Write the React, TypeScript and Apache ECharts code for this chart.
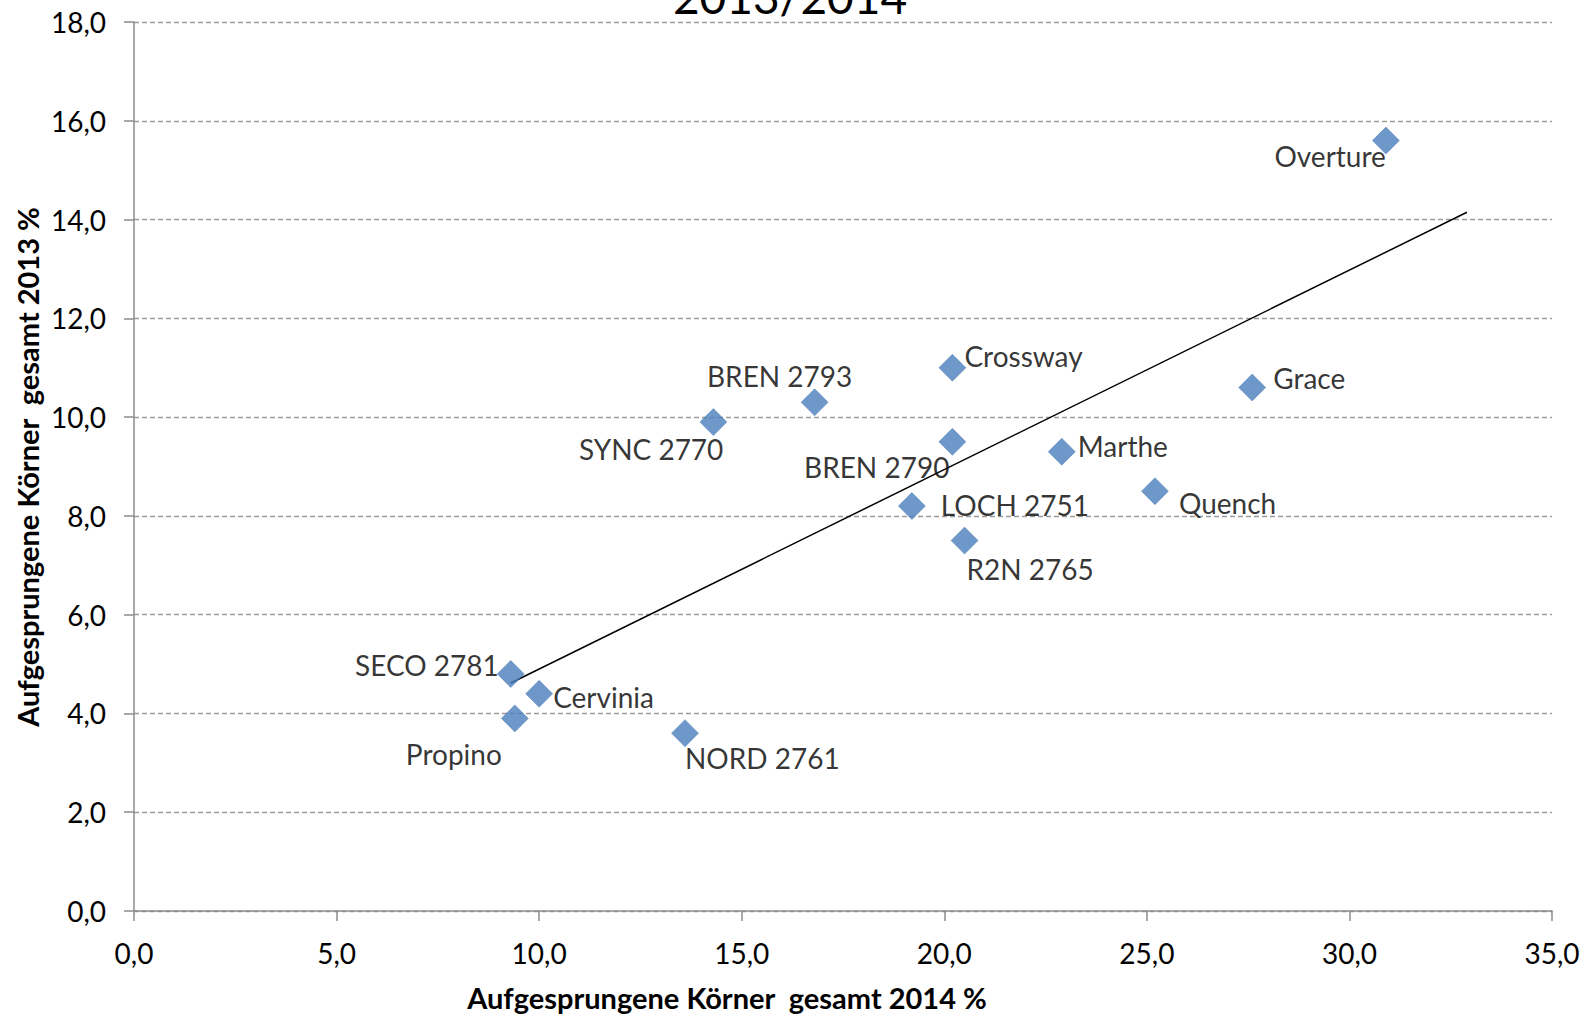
import React, { useEffect, useRef } from "react";
import * as echarts from "echarts";

const varieties = [
  "Overture", "Crossway", "BREN 2793", "SYNC 2770", "BREN 2790", "Grace", "Marthe",
  "Quench", "LOCH 2751", "R2N 2765", "SECO 2781", "Cervinia", "Propino", "NORD 2761",
];
const values2014 = [30.9, 20.2, 16.8, 14.3, 20.2, 27.6, 22.9, 25.2, 19.2, 20.5, 9.3, 10.0, 9.4, 13.6];
const values2013 = [15.6, 11.0, 10.3, 9.9, 9.5, 10.6, 9.3, 8.5, 8.2, 7.5, 4.8, 4.4, 3.9, 3.6];
const xTicks = { min: 0, max: 35, interval: 5 };
const yTicks = { min: 0, max: 18, interval: 2 };
const titleText = "2013/2014";
const xAxisTitle = "Aufgesprungene Körner  gesamt 2014 %";
const yAxisTitle = "Aufgesprungene Körner  gesamt 2013 %";
const trendForward = 2;

// label placement (offsets from marker centre, px)
const labelPlacement: { dx: number; dy: number; align: string }[] = [
  { dx: 0, dy: 15, align: "right" },
  { dx: 12, dy: -12, align: "left" },
  { dx: -35, dy: -26, align: "center" },
  { dx: 10, dy: 27, align: "right" },
  { dx: -3, dy: 25, align: "right" },
  { dx: 21, dy: -9, align: "left" },
  { dx: 16, dy: -6, align: "left" },
  { dx: 24, dy: 12, align: "left" },
  { dx: 29, dy: -1, align: "left" },
  { dx: 2, dy: 28, align: "left" },
  { dx: -12, dy: -9, align: "right" },
  { dx: 14, dy: 3, align: "left" },
  { dx: -13, dy: 36, align: "right" },
  { dx: 0, dy: 25, align: "left" },
];

function regression(xs: number[], ys: number[]) {
  const n = xs.length;
  const mx = xs.reduce((a, b) => a + b, 0) / n;
  const my = ys.reduce((a, b) => a + b, 0) / n;
  let sxy = 0, sxx = 0;
  for (let i = 0; i < n; i++) {
    sxy += (xs[i] - mx) * (ys[i] - my);
    sxx += (xs[i] - mx) * (xs[i] - mx);
  }
  const slope = sxy / sxx;
  return { slope, intercept: my - slope * mx };
}

const FONT = "Lato, 'Open Sans', sans-serif";
const fmt = (v: number) => v.toFixed(1).replace(".", ",");

export default function App() {
  const ref = useRef<HTMLDivElement>(null);
  useEffect(() => {
    if (!ref.current) return;
    const chart = echarts.init(ref.current, undefined, { renderer: "svg" });
    const { slope, intercept } = regression(values2014, values2013);
    const x1 = Math.min(...values2014);
    const x2 = Math.max(...values2014) + trendForward;
    const trend = [
      [x1, intercept + slope * x1],
      [x2, intercept + slope * x2],
    ];
    const points = varieties.map((name, i) => ({
      name,
      value: [values2014[i], values2013[i]],
      label: {
        show: true,
        position: "inside",
        offset: [labelPlacement[i].dx, labelPlacement[i].dy],
        align: labelPlacement[i].align,
        verticalAlign: "middle",
        formatter: name,
      },
    }));
    chart.setOption({
      animation: false,
      backgroundColor: "#ffffff",
      textStyle: { fontFamily: FONT },
      grid: { left: 134, right: 43, top: 22, bottom: 105, containLabel: false },
      graphic: [
        {
          type: "text",
          x: 790,
          y: -4,
          style: {
            text: titleText,
            font: `46px ${FONT}`,
            fill: "#000",
            align: "center",
            verticalAlign: "middle",
          },
        },
        {
          type: "text",
          x: 727,
          y: 997,
          style: {
            text: xAxisTitle,
            font: `bold 29px ${FONT}`,
            fill: "#000",
            align: "center",
            verticalAlign: "middle",
          },
        },
        {
          type: "text",
          x: 27,
          y: 467,
          rotation: Math.PI / 2,
          style: {
            text: yAxisTitle,
            font: `bold 29px ${FONT}`,
            fill: "#000",
            align: "center",
            verticalAlign: "middle",
          },
        },
      ],
      xAxis: {
        type: "value",
        min: xTicks.min,
        max: xTicks.max,
        interval: xTicks.interval,
        axisLine: { show: true, onZero: false, lineStyle: { color: "#8c8c8c", width: 1.5 } },
        axisTick: { show: true, length: 10, lineStyle: { color: "#8c8c8c", width: 1.5 } },
        axisLabel: { margin: 28, fontSize: 28, color: "#000", fontFamily: FONT, formatter: fmt },
        splitLine: { show: false },
      },
      yAxis: {
        type: "value",
        min: yTicks.min,
        max: yTicks.max,
        interval: yTicks.interval,
        axisLine: { show: true, onZero: false, lineStyle: { color: "#8c8c8c", width: 1.5 } },
        axisTick: { show: true, length: 10, lineStyle: { color: "#8c8c8c", width: 1.5 } },
        axisLabel: { margin: 28, fontSize: 28, color: "#000", fontFamily: FONT, formatter: fmt },
        splitLine: { show: true, lineStyle: { color: "#9a9a9a", width: 1.3, type: [5, 3] } },
      },
      series: [
        {
          type: "line",
          data: trend,
          symbol: "none",
          silent: true,
          lineStyle: { color: "#000", width: 1.5 },
          z: 3,
        },
        {
          type: "scatter",
          data: points,
          symbol: "diamond",
          symbolSize: 27,
          itemStyle: { color: "#4a7ebb", borderColor: "#3f70ab", borderWidth: 0.5 },
          label: { fontSize: 28, color: "#000", fontFamily: FONT },
          z: 4,
        },
      ],
    });
    return () => chart.dispose();
  }, []);
  return (
    <div
      ref={ref}
      style={{ position: "fixed", left: 0, top: 0, width: 1595, height: 1016, background: "#fff" }}
    />
  );
}
